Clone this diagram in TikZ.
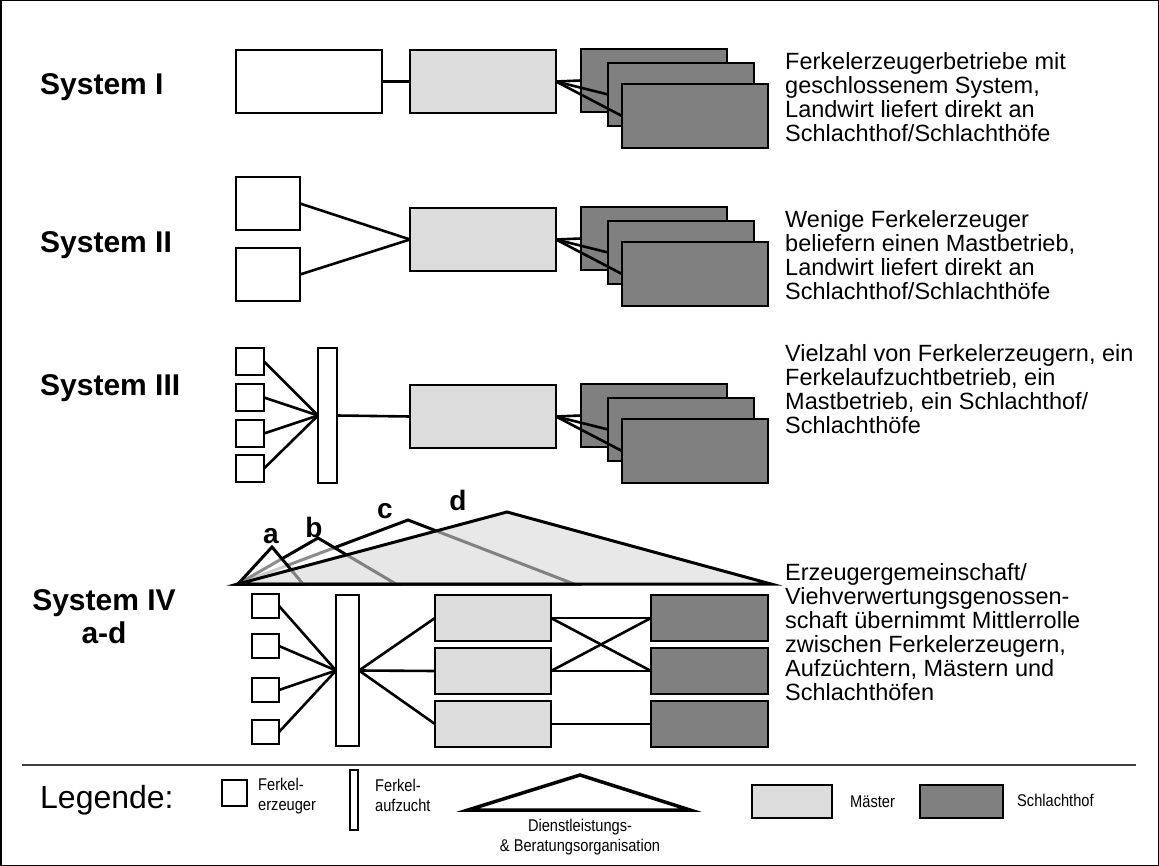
\documentclass[tikz,border=0pt]{standalone}
\usepackage{fontspec}
\setmainfont{Liberation Sans}
\newfontfamily\legfont[FakeStretch=0.86]{Liberation Sans}
\definecolor{mastfill}{HTML}{DCDCDC}
\definecolor{schlfill}{HTML}{808080}
\definecolor{orgfill}{HTML}{D8D8D8}

% box given by its corners: style, name, x1, y1, x2, y2
\newcommand\placebox[6]{%
  \node[#1, minimum width={(#5-#3)*1pt}, minimum height={(#6-#4)*1pt}]
    (#2) at ({(#3+#5)/2},{(#4+#6)/2}) {};}

\begin{document}
\begin{tikzpicture}[x=1pt,y=-1pt,
  box/.style={draw, line width=2.6pt, inner sep=0pt, outer sep=0pt},
  ferk/.style={box, fill=white},
  mast/.style={box, fill=mastfill},
  schl/.style={box, fill=schlfill},
  lbox/.style={draw, line width=2pt, inner sep=0pt, outer sep=0pt},
  link/.style={line width=2.6pt},
  tri/.style={line width=3pt, line join=miter},
  syslabel/.style={font=\fontsize{30}{33}\selectfont\bfseries, inner sep=0pt},
  letter/.style={font=\fontsize{28}{30}\selectfont\bfseries, inner sep=0pt, anchor=base},
  % multi-line descriptions are anchored at the baseline of their last line
  desc/.style={font=\fontsize{23.5}{24}\selectfont, align=left, inner sep=0pt, anchor=base west},
  legtext/.style={font=\legfont\fontsize{17}{20}\selectfont, inner sep=0pt},
]
\useasboundingbox (0,0) rectangle (1159,866);
\draw[line width=1.5pt] (0.75,0.75) rectangle (1158.25,865.25);

% ---------------- System I ----------------
\node[syslabel, anchor=west] (lab1) at (40,87) {System I};
\placebox{ferk}{w1}{236}{50}{382}{113}
\placebox{mast}{g1}{410}{50}{556}{113}
\placebox{schl}{s1a}{581}{49}{727}{112}
\placebox{schl}{s1b}{608}{63}{754}{126}
\placebox{schl}{s1c}{622}{84}{768}{148}
\draw[link] (w1.east) -- (g1.west);
\draw[link] (g1.east) -- (s1a.west);
\draw[link] (g1.east) -- (s1b.west);
\draw[link] (g1.east) -- (s1c.west);
\node[desc] (t1) at (785,142) {Ferkelerzeugerbetriebe mit\\geschlossenem System,\\Landwirt liefert direkt an\\Schlachthof/Schlachthöfe};

% ---------------- System II ----------------
\node[syslabel, anchor=west] (lab2) at (40,245) {System II};
\placebox{ferk}{w2a}{236}{177}{300}{230}
\placebox{ferk}{w2b}{236}{248}{300}{301}
\placebox{mast}{g2}{410}{208}{556}{271}
\placebox{schl}{s2a}{581}{207}{727}{270}
\placebox{schl}{s2b}{608}{221}{754}{284}
\placebox{schl}{s2c}{622}{242}{768}{306}
\draw[link] (w2a.east) -- (g2.west);
\draw[link] (w2b.east) -- (g2.west);
\draw[link] (g2.east) -- (s2a.west);
\draw[link] (g2.east) -- (s2b.west);
\draw[link] (g2.east) -- (s2c.west);
\node[desc] (t2) at (785,300) {Wenige Ferkelerzeuger\\beliefern einen Mastbetrieb,\\Landwirt liefert direkt an\\Schlachthof/Schlachthöfe};

% ---------------- System III ----------------
\node[syslabel, anchor=west] (lab3) at (40,388) {System III};
\placebox{ferk}{f3a}{236}{348}{264}{375}
\placebox{ferk}{f3b}{236}{384}{264}{411}
\placebox{ferk}{f3c}{236}{420}{264}{447}
\placebox{ferk}{f3d}{236}{455}{264}{482}
\placebox{ferk}{a3}{318}{348}{337}{483}
\placebox{mast}{g3}{410}{385}{556}{448}
\placebox{schl}{s3a}{581}{384}{727}{447}
\placebox{schl}{s3b}{608}{398}{754}{461}
\placebox{schl}{s3c}{622}{419}{768}{483}
\foreach \f in {f3a,f3b,f3c,f3d} \draw[link] (\f.east) -- (a3.west);
\draw[link] (a3.east) -- (g3.west);
\draw[link] (g3.east) -- (s3a.west);
\draw[link] (g3.east) -- (s3b.west);
\draw[link] (g3.east) -- (s3c.west);
\node[desc] (t3) at (785,433.5) {Vielzahl von Ferkelerzeugern, ein\\Ferkelaufzuchtbetrieb, ein\\Mastbetrieb, ein Schlachthof/\\Schlachthöfe};

% ---------------- System IV ----------------
\node[syslabel, align=center] (lab4) at (104,617) {System IV\\a-d};

% service organisations a-d (common left corner)
\coordinate (tl) at (238,584);
\coordinate (ta) at (272,547);  \coordinate (tar) at (303,584);
\coordinate (tb) at (318,538);  \coordinate (tbr) at (396,584);
\coordinate (tc) at (408,520);  \coordinate (tcr) at (574,584);
\coordinate (td) at (507,512);  \coordinate (tdr) at (771,584);
\filldraw[tri, fill=white, fill opacity=0.55] (tl) -- (tc) -- (tcr) -- cycle;
\filldraw[tri, fill=white, fill opacity=0.55] (tl) -- (tb) -- (tbr) -- cycle;
\filldraw[tri, fill=white, fill opacity=0.55] (tl) -- (ta) -- (tar) -- cycle;
\filldraw[tri, fill=orgfill, fill opacity=0.6] (tl) -- (td) -- (tdr) -- cycle;
\node[letter] (la) at (271,543) {a};
\node[letter] (lb) at (314,537) {b};
\node[letter] (lc) at (385,518) {c};
\node[letter] (ld) at (458,510) {d};

\placebox{ferk}{f4a}{252}{594}{279}{618}
\placebox{ferk}{f4b}{252}{634}{279}{658}
\placebox{ferk}{f4c}{252}{678}{279}{702}
\placebox{ferk}{f4d}{252}{720}{279}{744}
\placebox{ferk}{a4}{336}{595}{359}{746}
\placebox{mast}{g4a}{435}{595}{551}{641}
\placebox{mast}{g4b}{435}{648}{551}{694}
\placebox{mast}{g4c}{435}{701}{551}{747}
\placebox{schl}{s4a}{651}{595}{768}{641}
\placebox{schl}{s4b}{651}{648}{768}{694}
\placebox{schl}{s4c}{651}{701}{768}{747}
\foreach \f in {f4a,f4b,f4c,f4d} \draw[link] (\f.east) -- (a4.west);
\foreach \g in {g4a,g4b,g4c} \draw[link] (a4.east) -- (\g.west);
\draw[link] (g4a.east) -- (s4a.west);
\draw[link] (g4a.east) -- (s4b.west);
\draw[link] (g4b.east) -- (s4a.west);
\draw[link] (g4b.east) -- (s4b.west);
\draw[link] (g4c.east) -- (s4c.west);
\node[desc] (t4) at (785,700.5) {Erzeugergemeinschaft/\\Viehverwertungsgenossen-\\schaft übernimmt Mittlerrolle\\zwischen Ferkelerzeugern,\\Aufzüchtern, Mästern und\\Schlachthöfen};

% ---------------- Legend ----------------
\coordinate (sepl) at (22,765);
\coordinate (sepr) at (1136,765);
\draw[line width=1.3pt, black!75] (sepl) -- (sepr);
\node[font=\fontsize{32}{36}\selectfont, inner sep=0pt, anchor=west] (leg) at (40,800) {Legende:};
\placebox{lbox, fill=white}{lf}{222}{780}{247}{806}
\node[legtext, align=left, anchor=west] (lft) at (258,796) {Ferkel-\\erzeuger};
\placebox{lbox, fill=white}{la4}{350}{770}{358}{830}
\node[legtext, align=left, anchor=west] (lat) at (375,795) {Ferkel-\\aufzucht};
\coordinate (lt1) at (468,810);
\coordinate (lt2) at (580,775);
\coordinate (lt3) at (690,810);
\draw[line width=3.5pt, line join=miter] (lt1) -- (lt2) -- (lt3) -- cycle;
\node[legtext, align=center] (lot) at (580,837) {Dienstleistungs-\\\& Beratungsorganisation};
\placebox{lbox, fill=mastfill}{lm}{752}{785}{832}{818}
\node[legtext, anchor=west] (lmt) at (850,802) {Mäster};
\placebox{lbox, fill=schlfill}{ls}{920}{785}{1003}{818}
\node[legtext, anchor=west] (lst) at (1017,800) {Schlachthof};
\end{tikzpicture}
\end{document}
